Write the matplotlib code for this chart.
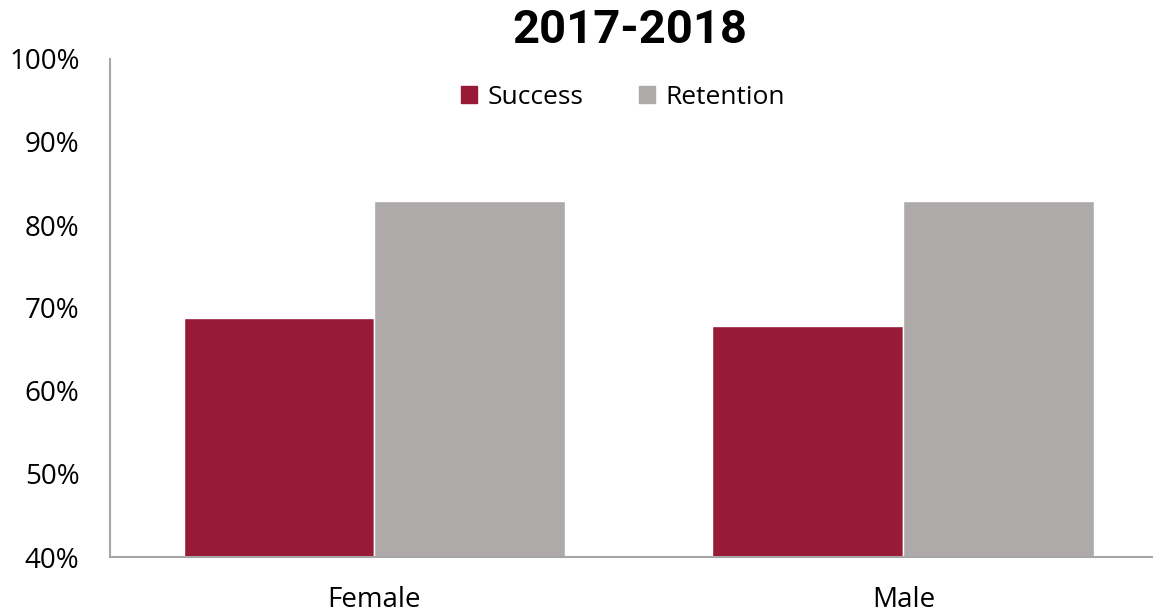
import matplotlib.pyplot as plt
import numpy as np
from matplotlib.patches import Patch

# data
categories = ['Female', 'Male']
success = [68.8, 67.8]
retention = [82.9, 82.9]
yticks = [40, 50, 60, 70, 80, 90, 100]

plt.rcParams['font.family'] = ['Open Sans', 'DejaVu Sans']

fig = plt.figure(figsize=(11.61, 6.16), dpi=100)
ax = fig.add_axes([110 / 1161, 59 / 616, 1042 / 1161, 498 / 616])

x = np.arange(len(categories))
w = 0.361
ax.bar(x - w / 2, success, w, color='#971B36', edgecolor='white', linewidth=1, label='Success')
ax.bar(x + w / 2, retention, w, color='#AEAAAA', edgecolor='white', linewidth=1, label='Retention')

ax.set_ylim(40, 100)
ax.set_xlim(-0.5, 1.47)
ax.set_yticks(yticks)
ax.set_yticklabels([f'{t}%' for t in yticks], fontsize=20)
ax.set_xticks(x)
ax.set_xticklabels(categories, fontsize=20)
ax.tick_params(axis='y', length=0, pad=22)
ax.tick_params(axis='x', length=0, pad=21)

for s in ['top', 'right']:
    ax.spines[s].set_visible(False)
for s in ['left', 'bottom']:
    ax.spines[s].set_color('#A6A6A6')
    ax.spines[s].set_linewidth(1.5)

fig.text(630 / 1161, 0.952, '2017-2018', ha='center', va='center', fontsize=34,
         fontweight='bold', family=['Roboto', 'DejaVu Sans'])

handles = [Patch(color='#971B36', label='Success'), Patch(color='#AEAAAA', label='Retention')]
ax.legend(handles=handles, loc='center', bbox_to_anchor=(623 / 1161, 1 - 97 / 616),
          bbox_transform=fig.transFigure, ncol=2, frameon=False, fontsize=19,
          handlelength=0.6, handleheight=0.6, handletextpad=0.4, columnspacing=2.1)

fig.savefig('out.png', dpi=100)
